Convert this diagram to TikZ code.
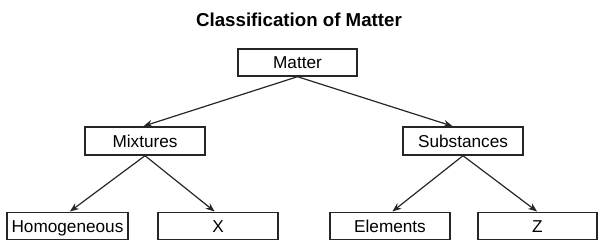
\documentclass[tikz,border=0pt]{standalone}
\usepackage{fontspec}
\setmainfont{Liberation Sans}
\usetikzlibrary{arrows.meta}
\begin{document}
\begin{tikzpicture}[x=1pt,y=-1pt,
  box/.style={draw=black!85, line width=1.4pt, fill=white, minimum width=120pt, minimum height=28pt,
    inner sep=0pt, font=\fontsize{17.2}{19}\selectfont, text height=12.3pt, text depth=0pt},
  link/.style={draw=black!85, -{Stealth[length=9pt,width=7pt]}, line width=1.2pt, shorten >=0.5pt}]
\useasboundingbox (0,0) rectangle (606,250);
\node[font=\bfseries\fontsize{18.7}{20}\selectfont, text height=13.4pt, text depth=0pt, inner sep=0pt] (title) at (299,20) {Classification of Matter};
\node[box, minimum width=119pt, minimum height=27pt] (matter) at (297.5,62.5) {Matter};
\node[box] (mix) at (145,141) {Mixtures};
\node[box] (sub) at (463,141) {Substances};
\node[box, minimum width=121pt, minimum height=27pt] (hom) at (67.5,226) {Homogeneous};
\node[box, minimum height=27pt] (x) at (218,226) {X};
\node[box, minimum height=27pt] (el) at (390,226) {Elements};
\node[box, minimum width=119pt, minimum height=27pt] (z) at (537.5,226) {Z};
\draw[link] (matter.south) -- ([xshift=-2pt]mix.north);
\draw[link] (matter.south) -- ([xshift=-10pt]sub.north);
\draw[link] (mix.south) -- ([xshift=2pt]hom.north);
\draw[link] (mix.south) -- ([xshift=-3pt]x.north);
\draw[link] (sub.south) -- ([xshift=2pt]el.north);
\draw[link] (sub.south) -- (z.north);
\end{tikzpicture}
\end{document}
